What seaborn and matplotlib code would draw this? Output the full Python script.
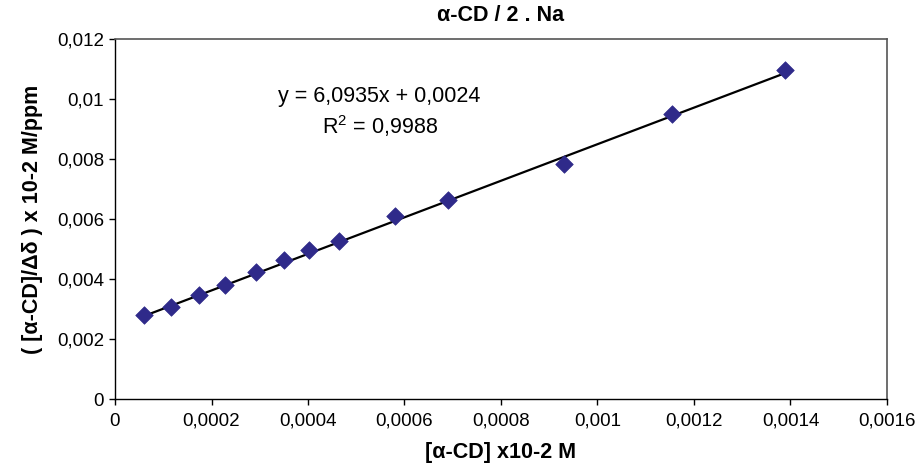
import matplotlib
matplotlib.use("Agg")
import matplotlib.pyplot as plt
import seaborn as sns
import numpy as np
import pandas as pd

# ---- data ----
conc = [0.0000600, 0.0001160, 0.0001740, 0.0002290, 0.0002920, 0.0003510,
        0.0004030, 0.0004640, 0.0005800, 0.0006900, 0.0009300, 0.0011540, 0.0013880]
ratio = [0.00279, 0.00307, 0.00347, 0.00380, 0.00424, 0.00462,
         0.00496, 0.00527, 0.00610, 0.00665, 0.00783, 0.00950, 0.01095]
slope = 6.0935
intercept = 0.0024
x_ticks = [0, 0.0002, 0.0004, 0.0006, 0.0008, 0.001, 0.0012, 0.0014, 0.0016]
x_tick_labels = ["0", "0,0002", "0,0004", "0,0006", "0,0008", "0,001", "0,0012", "0,0014", "0,0016"]
y_ticks = [0, 0.002, 0.004, 0.006, 0.008, 0.01, 0.012]
y_tick_labels = ["0", "0,002", "0,004", "0,006", "0,008", "0,01", "0,012"]
title = "α-CD / 2 . Na"
x_label = "[α-CD] x10-2 M"
y_label = "( [α-CD]/Δδ ) x 10-2 M/ppm"
eq_text = "y = 6,0935x + 0,0024"
r2_text = "R$^2$ = 0,9988"

sns.set_theme(style="white")
plt.rcParams['font.family'] = ['Liberation Sans', 'DejaVu Sans']
plt.rcParams['mathtext.fontset'] = 'custom'
plt.rcParams['mathtext.rm'] = 'Liberation Sans'

fig = plt.figure(figsize=(9.18, 4.73), dpi=100)
ax = fig.add_axes([115/918, 1 - 399/473, (887 - 115)/918, (399 - 39)/473])

df = pd.DataFrame({"x": conc, "y": ratio})
xs = np.array([min(conc), max(conc)])
line_df = pd.DataFrame({"x": xs, "y": slope * xs + intercept})

sns.lineplot(data=line_df, x="x", y="y", ax=ax, color="black", linewidth=1.6, zorder=2)
sns.scatterplot(data=df, x="x", y="y", ax=ax, marker="D", s=80, color="#2f2a8a",
                edgecolor="#2f2a8a", linewidth=0.5, zorder=3)

ax.set_xlim(0, 0.0016)
ax.set_ylim(0, 0.012)
ax.set_xticks(x_ticks)
ax.set_xticklabels(x_tick_labels, fontsize=13.5)
ax.set_yticks(y_ticks)
ax.set_yticklabels(y_tick_labels, fontsize=13.5)
ax.tick_params(axis='both', direction='out', length=4, width=1, color='black',
               left=True, bottom=True, labelcolor='black')
ax.tick_params(axis='x', pad=6)
ax.tick_params(axis='y', pad=4)

for s in ['left', 'bottom']:
    ax.spines[s].set_color('black')
    ax.spines[s].set_linewidth(1)
for s in ['top', 'right']:
    ax.spines[s].set_color('#555555')
    ax.spines[s].set_linewidth(1.2)

ax.set_xlabel(x_label, fontsize=15.5, fontweight='bold', labelpad=9, color='black')
ax.set_ylabel(y_label, fontsize=15.5, fontweight='bold', labelpad=10, color='black')
ax.set_title(title, fontsize=15.5, fontweight='bold', pad=13, color='black')

ax.text(0.000547, 0.01010, eq_text, fontsize=15.5, ha='center', va='center', color='black')
ax.text(0.000549, 0.00910, r2_text, fontsize=15.5, ha='center', va='center', color='black')

fig.savefig("out.png", dpi=100)
